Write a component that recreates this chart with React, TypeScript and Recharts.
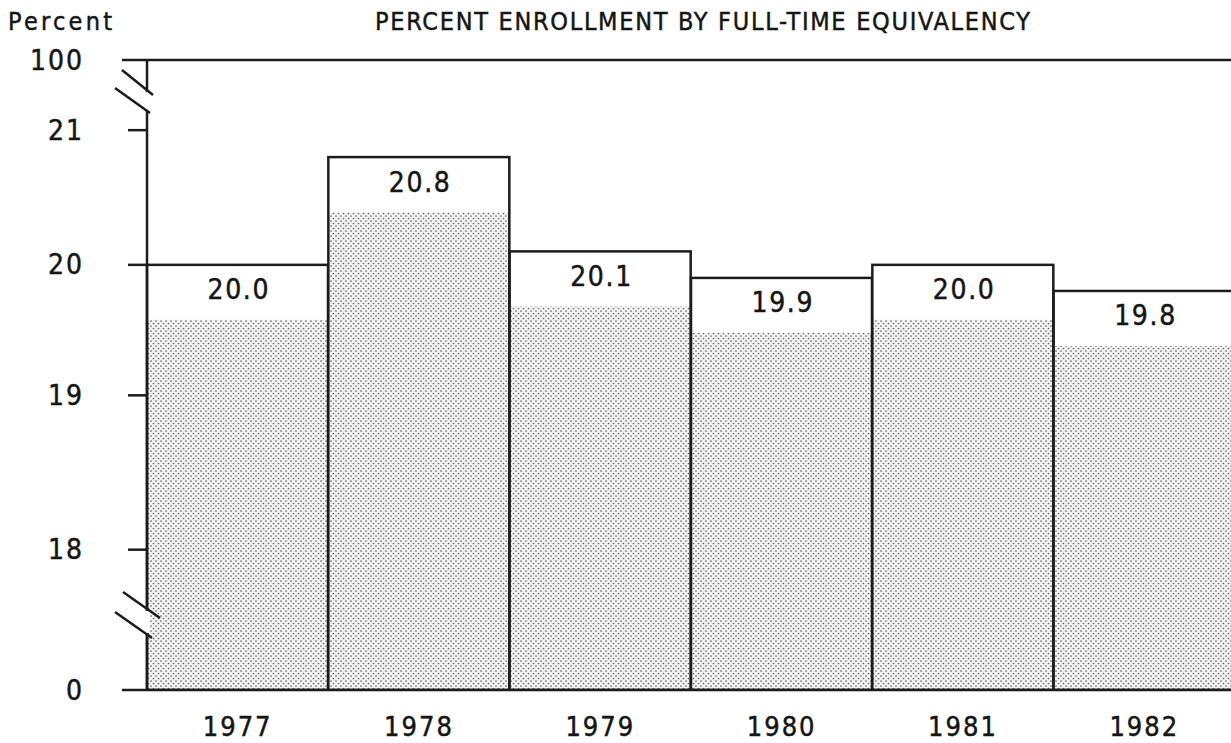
import { BarChart, Bar, XAxis, YAxis, ReferenceLine, LabelList } from 'recharts';

// values
const years = ['1977', '1978', '1979', '1980', '1981', '1982'];
const percents = [20.0, 20.8, 20.1, 19.9, 20.0, 19.8];

// broken y axis: tick labels and the relative height of each segment between them
const yTickValues = [0, 18, 19, 20, 21, 100];
const ySegmentUnits = [1.0, 1.1, 0.93, 0.96, 0.5];

const INK = '#1c1c1c';
const TEXT = '#151515';
const FONT = "'Liberation Sans Narrow', 'DejaVu Sans Condensed', sans-serif";
// typewriter text is a little heavier than the plain font
const heavy = { stroke: TEXT, strokeWidth: 0.45 };

// map a real percent onto the broken axis
function toAxis(v: number) {
  let base = 0;
  for (let i = 0; i < ySegmentUnits.length; i++) {
    const lo = yTickValues[i];
    const hi = yTickValues[i + 1];
    if (v <= hi || i === ySegmentUnits.length - 1) {
      return base + ((v - lo) / (hi - lo)) * ySegmentUnits[i];
    }
    base += ySegmentUnits[i];
  }
  return base;
}

const chartData = years.map((year, i) => ({
  year,
  percent: percents[i],
  plotted: toAxis(percents[i]),
}));

const axisTicks = yTickValues.map(toAxis);

function YTick({ x, y, payload }: any) {
  const idx = axisTicks.findIndex((t) => Math.abs(t - payload.value) < 1e-6);
  const label = yTickValues[idx];
  const isEnd = label === 0 || label === 100;
  return (
    <g>
      <line x1={x - (isEnd ? 25 : 19)} x2={x} y1={y} y2={y} stroke={INK} strokeWidth={2.5} />
      <text
        x={x - 63}
        y={y}
        textAnchor="end"
        dominantBaseline="central"
        fontFamily={FONT}
        fontSize={28}
        letterSpacing={2}
        fill={TEXT}
        {...heavy}
      >
        {label}
      </text>
      {label === 100 && (
        <g stroke={INK} strokeWidth={2.5}>
          <rect x={x - 3} y={y + 32} width={6} height={18} fill="#fff" stroke="none" />
          <line x1={x - 25} y1={y + 10} x2={x + 6} y2={y + 35} />
          <line x1={x - 32} y1={y + 28} x2={x + 3} y2={y + 53} />
        </g>
      )}
      {label === 0 && (
        <g stroke={INK} strokeWidth={2.5}>
          <rect x={x - 3} y={y - 79} width={6} height={22} fill="#fff" stroke="none" />
          <line x1={x - 24} y1={y - 98} x2={x + 13} y2={y - 72} />
          <line x1={x - 32} y1={y - 78} x2={x + 5} y2={y - 52} />
        </g>
      )}
    </g>
  );
}

function XTick({ x, y, payload }: any) {
  return (
    <text
      x={x}
      y={y + 36}
      textAnchor="middle"
      dominantBaseline="central"
      fontFamily={FONT}
      fontSize={27}
      letterSpacing={2}
      fill={TEXT}
      {...heavy}
    >
      {payload.value}
    </text>
  );
}

function ShadedBar({ x, y, width, height }: any) {
  const gap = 55;
  return (
    <g>
      <rect x={x} y={y} width={width} height={height} fill="#fff" />
      <rect x={x} y={y + gap} width={width} height={Math.max(0, height - gap)} fill="url(#dots)" />
      <rect x={x} y={y} width={width} height={height} fill="none" stroke={INK} strokeWidth={2.5} />
    </g>
  );
}

function ValueLabel({ x, y, width, value }: any) {
  return (
    <text
      x={x + width / 2 - 30}
      y={y + 25}
      dominantBaseline="central"
      fontFamily={FONT}
      fontSize={28}
      textLength={61}
      lengthAdjust="spacing"
      fill={TEXT}
      {...heavy}
    >
      {Number(value).toFixed(1)}
    </text>
  );
}

export default function App() {
  return (
    <div
      style={{
        position: 'absolute',
        left: 0,
        top: 0,
        width: 1231,
        height: 743,
        overflow: 'hidden',
        background: '#fff',
      }}
    >
      <svg width={0} height={0} style={{ position: 'absolute' }}>
        <defs>
          <pattern id="dots" width={5} height={5} patternUnits="userSpaceOnUse">
            <rect width={5} height={5} fill="#f3f3f3" />
            <circle cx={1} cy={1} r={0.85} fill="#666" />
            <circle cx={3.5} cy={3.5} r={0.85} fill="#666" />
          </pattern>
        </defs>
      </svg>
      <BarChart
        width={1240}
        height={743}
        data={chartData}
        margin={{ top: 60, right: 5, left: 0, bottom: 0 }}
        barCategoryGap={0}
        barGap={0}
      >
        <XAxis
          dataKey="year"
          height={53}
          axisLine={{ stroke: INK, strokeWidth: 2.5 }}
          tickLine={false}
          tickSize={0}
          tickMargin={0}
          interval={0}
          tick={<XTick />}
        />
        <YAxis
          type="number"
          domain={[0, toAxis(100)]}
          ticks={axisTicks}
          interval={0}
          width={147}
          axisLine={{ stroke: INK, strokeWidth: 2.5 }}
          tickLine={false}
          tickSize={0}
          tickMargin={0}
          tick={<YTick />}
          allowDataOverflow
        />
        <ReferenceLine y={toAxis(100)} stroke={INK} strokeWidth={2.5} />
        <Bar dataKey="plotted" shape={<ShadedBar />} isAnimationActive={false}>
          <LabelList dataKey="percent" content={<ValueLabel />} />
        </Bar>
      </BarChart>
      <svg
        width={1231}
        height={743}
        style={{ position: 'absolute', left: 0, top: 0, pointerEvents: 'none' }}
      >
        <text
          x={8}
          y={21}
          dominantBaseline="central"
          fontFamily={FONT}
          fontSize={25}
          textLength={104}
          lengthAdjust="spacing"
          fill={TEXT}
          {...heavy}
        >
          Percent
        </text>
        <text
          x={375}
          y={21}
          dominantBaseline="central"
          fontFamily={FONT}
          fontSize={25}
          textLength={655}
          lengthAdjust="spacing"
          fill={TEXT}
          {...heavy}
        >
          PERCENT ENROLLMENT BY FULL-TIME EQUIVALENCY
        </text>
      </svg>
    </div>
  );
}
